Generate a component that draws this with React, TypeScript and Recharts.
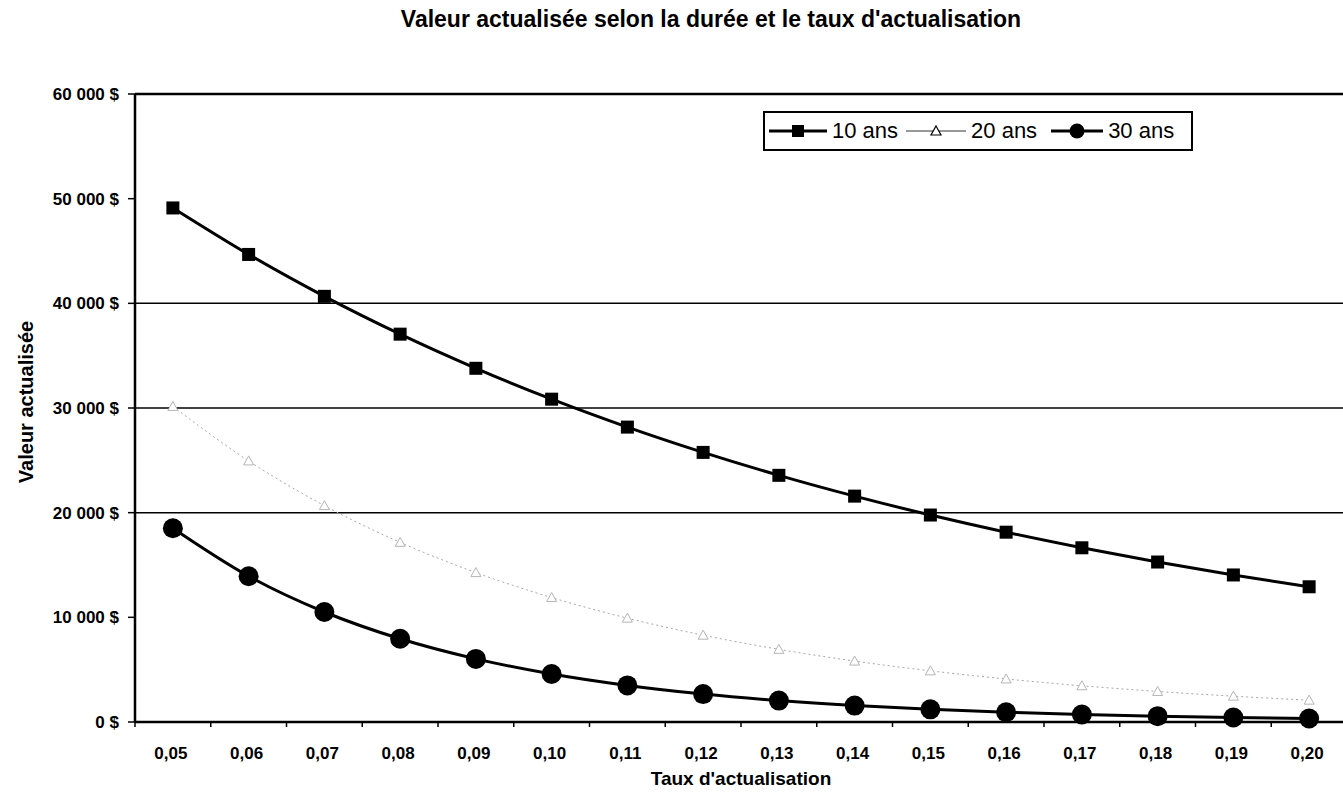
import React from 'react';
import { LineChart, Line, XAxis, YAxis, ReferenceLine, Legend } from 'recharts';

// Discount rates (x categories)
const taux = ['0,05', '0,06', '0,07', '0,08', '0,09', '0,10', '0,11', '0,12', '0,13', '0,14', '0,15', '0,16', '0,17', '0,18', '0,19', '0,20'];

// Present value of 80 000 $ received after 10, 20 and 30 years
const ans10 = [49113, 44671, 40668, 37055, 33793, 30843, 28175, 25758, 23567, 21580, 19775, 18135, 16645, 15285, 14048, 12920];
const ans20 = [30151, 24944, 20674, 17164, 14274, 11891, 9923, 8293, 6943, 5821, 4888, 4111, 3462, 2920, 2467, 2087];
const ans30 = [18510, 13929, 10509, 7950, 6030, 4585, 3495, 2670, 2045, 1570, 1208, 932, 720, 558, 433, 337];

const yTicks = [0, 10000, 20000, 30000, 40000, 50000, 60000];
const gridValues = [20000, 30000, 40000];

const data = taux.map((t, i) => ({ taux: t, a10: ans10[i], a20: ans20[i], a30: ans30[i] }));

const FONT = '"Liberation Sans", Arial, Helvetica, sans-serif';

const fmtMoney = (v: number) => {
  const s = String(Math.round(v)).replace(/\B(?=(\d{3})+(?!\d))/g, ' ');
  return `${s} $`;
};

const SquareDot = (props: any) => {
  const { cx, cy, index } = props;
  if (cx == null || cy == null) return null;
  return <rect key={`sq-${index}`} x={cx - 6.5} y={cy - 6.5} width={13} height={13} fill="#000" />;
};

const CircleDot = (props: any) => {
  const { cx, cy, index } = props;
  if (cx == null || cy == null) return null;
  return <circle key={`ci-${index}`} cx={cx} cy={cy} r={10} fill="#000" />;
};

const TriangleDot = (props: any) => {
  const { cx, cy, index } = props;
  if (cx == null || cy == null) return null;
  const s = 5;
  return (
    <path
      key={`tr-${index}`}
      d={`M${cx},${cy - s} L${cx + s},${cy + s * 0.8} L${cx - s},${cy + s * 0.8} Z`}
      fill="#fff"
      stroke="#b5b5b5"
      strokeWidth={1}
    />
  );
};

// Category tick: label in the middle of the band, tick marks on band boundaries
const XTick = (props: any) => {
  const { x, y, payload, index, visibleTicksCount, width } = props;
  const half = payload && typeof payload.offset === 'number' && payload.offset > 0
    ? payload.offset
    : width / visibleTicksCount / 2;
  const axisY = y - 8;
  return (
    <g>
      <line x1={x - half} x2={x - half} y1={axisY} y2={axisY + 5} stroke="#000" strokeWidth={1.5} />
      {index === visibleTicksCount - 1 && (
        <line x1={x + half} x2={x + half} y1={axisY} y2={axisY + 5} stroke="#000" strokeWidth={1.5} />
      )}
      <text x={x - 2} y={axisY + 37} textAnchor="middle" fontFamily={FONT} fontWeight="bold" fontSize={17} fill="#000">
        {payload.value}
      </text>
    </g>
  );
};

const legendGeom: Record<string, { w: number; gapAfter: number }> = {
  a10: { w: 62, gapAfter: 6 },
  a20: { w: 64, gapAfter: 12 },
  a30: { w: 56, gapAfter: 0 },
};

const LegendBox = (props: any) => {
  const { payload } = props;
  const items = payload || [];
  return (
    <div
      style={{
        border: '2px solid #000',
        background: '#fff',
        width: 430,
        height: 40,
        boxSizing: 'border-box',
        display: 'flex',
        alignItems: 'center',
        padding: '0 0 0 2px',
        fontFamily: FONT,
        fontSize: 22,
        color: '#000',
        whiteSpace: 'nowrap',
      }}
    >
      {items.map((it: any) => {
        const key = it.dataKey;
        const g = legendGeom[key] || { w: 60, gapAfter: 6 };
        const mid = g.w / 2;
        return (
          <div key={key} style={{ display: 'flex', alignItems: 'center', marginRight: g.gapAfter }}>
            <svg width={g.w} height={24} style={{ display: 'block' }}>
              {key === 'a20' ? (
                <>
                  <line x1={2} x2={g.w - 2} y1={12} y2={12} stroke="#333" strokeWidth={1} />
                  <path d={`M${mid},7 L${mid + 5},16 L${mid - 5},16 Z`} fill="#fff" stroke="#000" strokeWidth={1.2} />
                </>
              ) : (
                <>
                  <line x1={2} x2={g.w - 2} y1={12} y2={12} stroke="#000" strokeWidth={3} />
                  {key === 'a10' ? (
                    <rect x={mid - 6} y={6} width={12} height={12} fill="#000" />
                  ) : (
                    <circle cx={mid} cy={12} r={7.5} fill="#000" />
                  )}
                </>
              )}
            </svg>
            <span style={{ marginLeft: 3 }}>{it.value}</span>
          </div>
        );
      })}
    </div>
  );
};

const YLabel = (props: any) => {
  const { viewBox } = props;
  const cy = viewBox.y + viewBox.height / 2 - 6;
  const cx = 26;
  return (
    <text
      x={cx}
      y={cy}
      transform={`rotate(-90, ${cx}, ${cy})`}
      textAnchor="middle"
      dominantBaseline="central"
      fontFamily={FONT}
      fontWeight="bold"
      fontSize={20}
      fill="#000"
    >
      Valeur actualisée
    </text>
  );
};

export default function App() {
  return (
    <div style={{ position: 'absolute', left: 0, top: 0, width: 1343, height: 799, background: '#fff', overflow: 'hidden' }}>
      <div
        style={{
          position: 'absolute',
          left: 0,
          top: 6,
          width: 1422,
          textAlign: 'center',
          fontFamily: FONT,
          fontWeight: 'bold',
          fontSize: 23,
          color: '#000',
        }}
      >
        Valeur actualisée selon la durée et le taux d'actualisation
      </div>
      <LineChart
        width={1347}
        height={799}
        data={data}
        margin={{ top: 94, right: 0, bottom: 0, left: 0 }}
        style={{ position: 'absolute', left: 0, top: 0 }}
      >
        <XAxis
          dataKey="taux"
          scale="band"
          height={77}
          axisLine={{ stroke: '#000', strokeWidth: 2.5 }}
          tickLine={false}
          tick={<XTick />}
          interval={0}
          label={{
            value: "Taux d'actualisation",
            position: 'insideBottom',
            offset: 14,
            style: { fontFamily: FONT, fontWeight: 'bold', fontSize: 19, fill: '#000' },
          }}
        />
        <YAxis
          type="number"
          domain={[0, 60000]}
          ticks={yTicks}
          interval={0}
          width={135}
          tickFormatter={fmtMoney}
          tickSize={7}
          tickMargin={9}
          tickLine={{ stroke: '#000', strokeWidth: 1.5 }}
          axisLine={{ stroke: '#000', strokeWidth: 2.5 }}
          tick={{ fontFamily: FONT, fontWeight: 'bold', fontSize: 17, fill: '#000' }}
          label={<YLabel />}
        />
        {gridValues.map((v) => (
          <ReferenceLine key={v} y={v} stroke="#000" strokeWidth={1.5} />
        ))}
        <ReferenceLine y={60000} stroke="#000" strokeWidth={2.5} />
        <Legend
          layout="horizontal"
          verticalAlign="middle"
          align="center"
          content={<LegendBox />}
          wrapperStyle={{ position: 'absolute', left: 763, top: 111, width: 430, height: 40 }}
        />
        <Line
          type="monotone"
          dataKey="a20"
          name="20 ans"
          stroke="#a8a8a8"
          strokeWidth={1}
          strokeDasharray="2 3"
          dot={<TriangleDot />}
          activeDot={false}
          isAnimationActive={false}
        />
        <Line
          type="monotone"
          dataKey="a10"
          name="10 ans"
          stroke="#000"
          strokeWidth={3}
          dot={<SquareDot />}
          activeDot={false}
          isAnimationActive={false}
        />
        <Line
          type="monotone"
          dataKey="a30"
          name="30 ans"
          stroke="#000"
          strokeWidth={3}
          dot={<CircleDot />}
          activeDot={false}
          isAnimationActive={false}
        />
      </LineChart>
    </div>
  );
}
